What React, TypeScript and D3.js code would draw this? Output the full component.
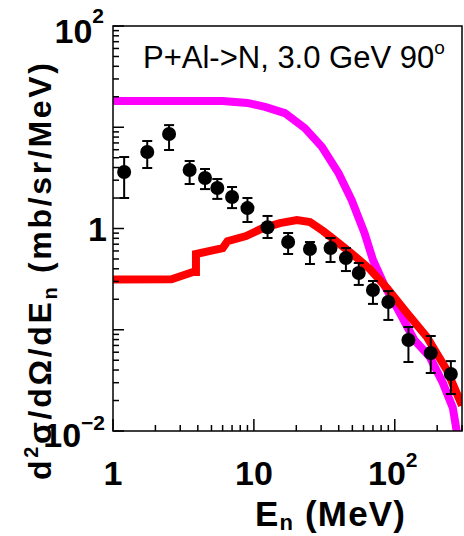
import * as d3 from 'd3';

// measured neutron spectrum (E_n in MeV, d2sigma in mb/sr/MeV)
const energy = [1.2, 1.75, 2.5, 3.5, 4.5, 5.5, 7, 9, 12.5, 17.5, 25, 35, 45, 55.5, 70, 90, 125, 180, 250];
const xsec = [3.61, 5.7, 8.58, 3.78, 3.15, 2.51, 2.05, 1.59, 1.03, 0.735, 0.628, 0.641, 0.511, 0.363, 0.247, 0.188, 0.0792, 0.0589, 0.0366];
const xsecLo = [2.0, 3.96, 5.96, 2.75, 2.45, 1.96, 1.59, 1.16, 0.806, 0.56, 0.446, 0.467, 0.38, 0.277, 0.18, 0.125, 0.048, 0.0374, 0.0232];
const xsecHi = [5.08, 7.31, 10.5, 4.64, 3.87, 3.08, 2.57, 2.0, 1.33, 0.903, 0.735, 0.806, 0.641, 0.456, 0.303, 0.241, 0.1065, 0.0867, 0.049];

// model curves
const magentaE = [1, 6, 9, 12, 16.6, 23, 30.4, 40, 49.5, 61, 70, 85, 103, 138, 177, 219, 258, 275, 290];
const magentaV = [18.2, 18.2, 17.4, 15.9, 13.8, 9.8, 6.4, 3.5, 1.9, 0.9, 0.49, 0.27, 0.168, 0.079, 0.054, 0.030, 0.017, 0.010, 0.004];
const redE = [1, 2.6, 3.2, 3.7, 3.88, 3.88, 6.0, 6.5, 8.8, 11.6, 15.3, 20.2, 25, 31, 39, 48, 66.5, 88, 122, 169, 234, 275, 300];
const redV = [0.313, 0.315, 0.347, 0.372, 0.372, 0.56, 0.64, 0.75, 0.843, 1.01, 1.13, 1.21, 1.16, 0.945, 0.736, 0.586, 0.398, 0.258, 0.146, 0.0847, 0.040, 0.0237, 0.0179];

const FONT = '"Liberation Sans", Arial, Helvetica, sans-serif';
const m = { left: 113, top: 26, right: 462, bottom: 431 };

export default function App() {
  const x = d3.scaleLog().domain([1, 300]).range([m.left, m.right]);
  const y = d3.scaleLog().domain([0.01, 100]).range([m.bottom, m.top]);

  const line = d3.line<[number, number]>().x(d => x(d[0])).y(d => y(d[1]));
  const magenta = line(magentaE.map((e, i) => [e, magentaV[i]]));
  const red = line(redE.map((e, i) => [e, redV[i]]));

  const isMajor = (v: number) => Math.abs(Math.log10(v) - Math.round(Math.log10(v))) < 1e-6;
  const xTicks = x.ticks();
  const yTicks = y.ticks();

  return (
    <>
      <style>{'body{margin:0}'}</style>
      <svg width={464} height={536} style={{ display: 'block', fontFamily: FONT }}>
        <defs>
          <clipPath id="plot">
            <rect x={m.left} y={m.top} width={m.right - m.left} height={m.bottom - m.top} />
          </clipPath>
        </defs>

        <g clipPath="url(#plot)">
          <path d={magenta ?? ''} fill="none" stroke="#ff00ff" strokeWidth={8} strokeLinejoin="miter" strokeMiterlimit={2} />
          <path d={red ?? ''} fill="none" stroke="#ff0000" strokeWidth={8} strokeLinejoin="miter" strokeMiterlimit={2} />
        </g>

        {/* data points */}
        {energy.map((e, i) => {
          const cx = x(e);
          return (
            <g key={i} stroke="#000" strokeWidth={2}>
              <line x1={cx} x2={cx} y1={y(xsecLo[i])} y2={y(xsecHi[i])} />
              <line x1={cx - 5} x2={cx + 5} y1={y(xsecLo[i])} y2={y(xsecLo[i])} />
              <line x1={cx - 5} x2={cx + 5} y1={y(xsecHi[i])} y2={y(xsecHi[i])} />
              <circle cx={cx} cy={y(xsec[i])} r={7} fill="#000" stroke="none" />
            </g>
          );
        })}

        {/* frame + ticks */}
        <rect x={m.left} y={m.top} width={m.right - m.left} height={m.bottom - m.top}
          fill="none" stroke="#000" strokeWidth={1.5} />
        <g stroke="#000" strokeWidth={1.5}>
          {xTicks.map((t, i) => (
            <line key={'x' + i} x1={x(t)} x2={x(t)} y1={m.bottom} y2={m.bottom - (isMajor(t) ? 12 : 6)} />
          ))}
          {yTicks.map((t, i) => (
            <line key={'y' + i} x1={m.left} x2={m.left + (isMajor(t) ? 11 : 6)} y1={y(t)} y2={y(t)} />
          ))}
        </g>

        {/* x tick labels */}
        <g fontWeight="bold" fontSize={34} textAnchor="middle">
          <text x={x(1)} y={485}>1</text>
          <text x={x(10)} y={485}>10</text>
          <text x={x(100) - 2} y={485}>10<tspan fontSize={21} dy={-18}>2</tspan></text>
        </g>

        {/* y tick labels */}
        <g fontWeight="bold" fontSize={34} textAnchor="end">
          <text x={104} y={y(100) + 17}>10<tspan fontSize={21} dy={-20}>2</tspan></text>
          <text x={107} y={y(1) + 12}>1</text>
          <text x={105} y={y(0.01) + 16}>10<tspan fontSize={21} dy={-17}>−2</tspan></text>
        </g>

        {/* axis titles */}
        <text x={255} y={526} fontWeight="bold" fontSize={35} textLength={150} lengthAdjust="spacing">
          E<tspan fontSize={22} dy={4}>n</tspan><tspan dy={-4}> (MeV)</tspan>
        </text>
        <text transform="translate(51,480) rotate(-90)" fontWeight="bold" fontSize={32}
          textLength={417} lengthAdjust="spacing">
          d<tspan fontSize={20} dy={-13}>2</tspan><tspan dy={13}>σ/dΩ/dE</tspan>
          <tspan fontSize={20} dy={6}>n</tspan><tspan dy={-6}> (mb/sr/MeV)</tspan>
        </text>

        {/* label */}
        <text x={143} y={68} fontSize={31}>
          P+Al-&gt;N, 3.0 GeV 90<tspan fontSize={19} dy={-14}>o</tspan>
        </text>
      </svg>
    </>
  );
}
